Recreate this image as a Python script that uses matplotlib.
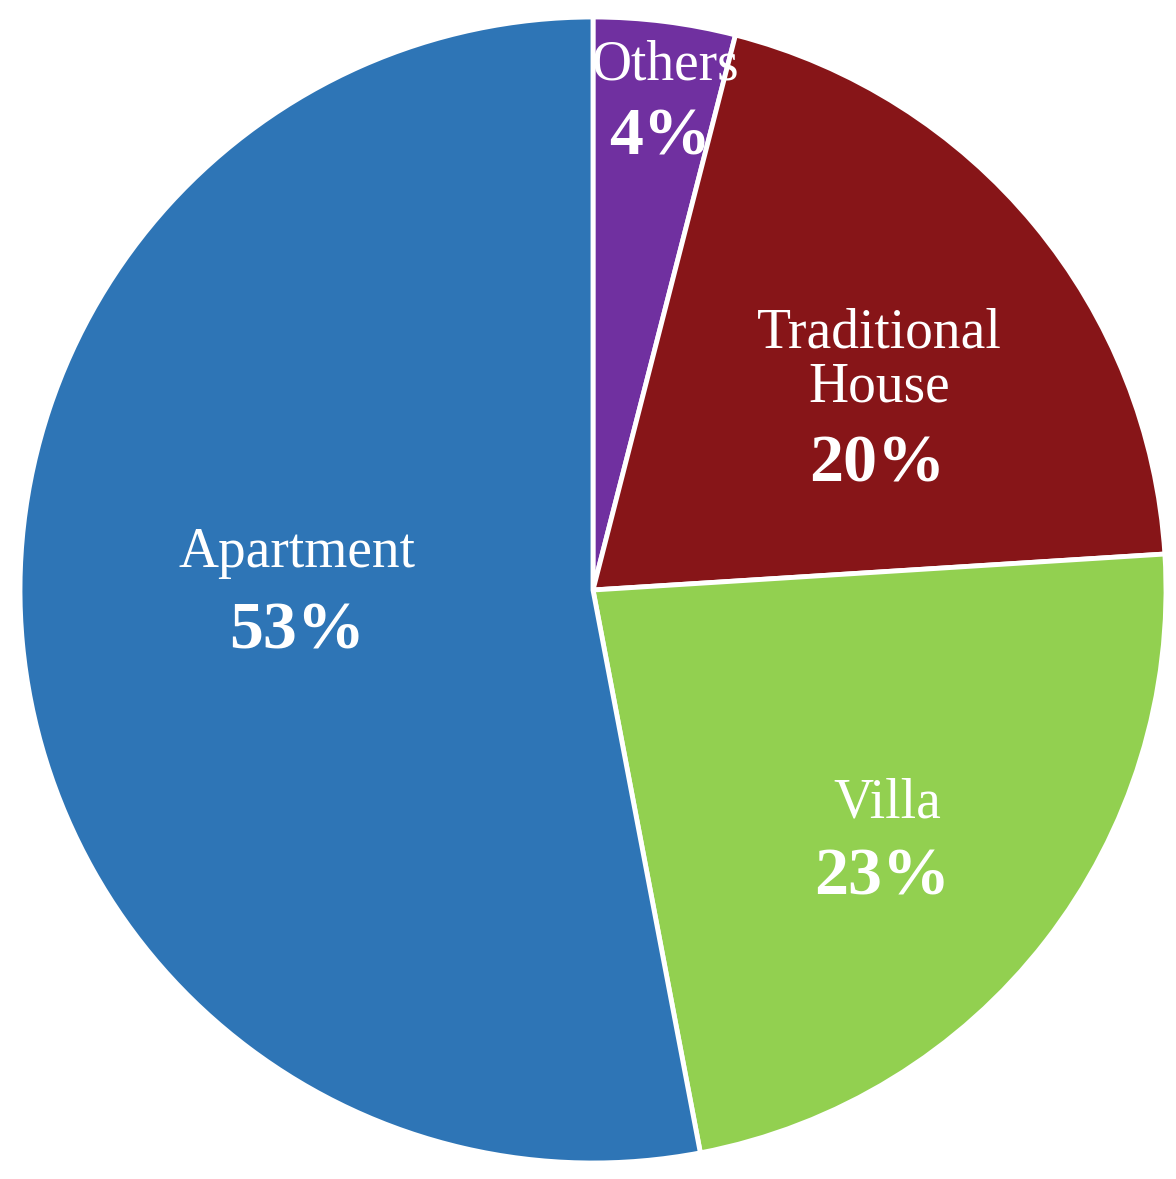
import matplotlib
matplotlib.use("Agg")
import matplotlib.pyplot as plt

categories = ["Others", "Traditional House", "Villa", "Apartment"]
name_lines = ["Others", "Traditional\nHouse", "Villa", "Apartment"]
values = [4, 20, 23, 53]
colors = ["#7030A0", "#871518", "#92D050", "#2E75B6"]

# label anchor positions (data units, radius = 1)
name_pos = [(0.126, 0.916), (0.499, 0.400), (0.513, -0.372), (-0.517, 0.065)]
pct_pos = [(0.117, 0.789), (0.496, 0.218), (0.504, -0.503), (-0.517, -0.073)]

plt.rcParams['font.family'] = ['Liberation Serif', 'DejaVu Serif']

fig = plt.figure(figsize=(11.76, 11.79), dpi=100)
ax = fig.add_axes([0, 0, 1, 1])
R = 573.0
cx, cy = 593.0, 590.0

wedges, _ = ax.pie(values, colors=colors, startangle=90, counterclock=False,
                   radius=1.0, center=(0, 0), frame=True,
                   wedgeprops=dict(edgecolor='white', linewidth=3.5))
ax.set_xlim(-cx / R, (1176 - cx) / R)
ax.set_ylim(-(1179 - cy) / R, cy / R)
ax.set_aspect('auto')
ax.axis('off')

for w, nm, v, npos, ppos in zip(wedges, name_lines, values, name_pos, pct_pos):
    t1 = ax.text(npos[0], npos[1], nm, color='white', fontsize=40, ha='center',
                 va='center', linespacing=1.05)
    t2 = ax.text(ppos[0], ppos[1], f"{v}%", color='white', fontsize=49,
                 fontweight='bold', ha='center', va='center')
    t1.set_clip_path(w)
    t2.set_clip_path(w)

fig.savefig("out.png", dpi=100, facecolor='white')
